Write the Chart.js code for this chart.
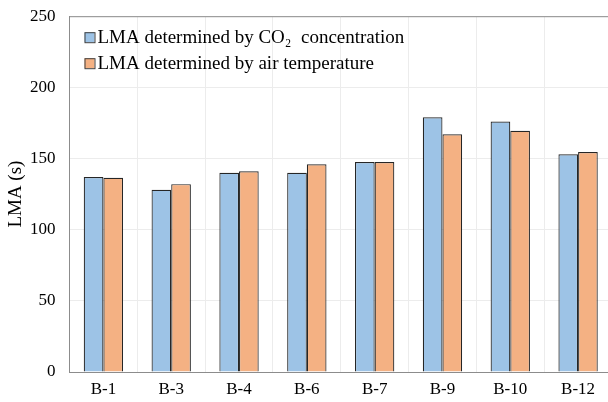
<!DOCTYPE html>
<html>
<head>
<meta charset="utf-8">
<script src="https://cdn.jsdelivr.net/npm/chart.js@4"></script>
<style>
  html, body { margin: 0; padding: 0; background: #fff; overflow: hidden; }
  #wrap { width: 608px; height: 402px; overflow: hidden; }
  #wrap div { width: 612px; height: 410px; margin-top: -8px; }
</style>
</head>
<body>
<div id="wrap"><div><canvas id="lma"></canvas></div></div>
<script>
const categories = ["B-1", "B-3", "B-4", "B-6", "B-7", "B-9", "B-10", "B-12"]
const co2Values = [137, 128, 140, 140, 147.5, 179, 176, 153]
const tempValues = [136.5, 132, 141, 146, 147.5, 167, 169.5, 154.5]
const seriesLabels = ["LMA determined by CO\u2082  concentration", "LMA determined by air temperature"]
const yTicks = [0, 50, 100, 150, 200, 250]

const serif = "'Liberation Serif', 'Times New Roman', serif"

// legend drawn inside the plot area, top left, like the original
const innerLegend = {
    id: "innerLegend",
    afterDraw(chart) {
        const ctx = chart.ctx
        const area = chart.chartArea
        ctx.save()
        ctx.font = "19px " + serif
        ctx.textBaseline = "middle"
        chart.data.datasets.forEach((ds, i) => {
            const y = area.top + 21 + i * 26
            const x = area.left + 15
            ctx.fillStyle = ds.backgroundColor
            ctx.fillRect(x, y - 5, 10, 10)
            ctx.strokeStyle = "#404040"
            ctx.lineWidth = 1
            ctx.strokeRect(x + 0.5, y - 4.5, 10, 10)
            ctx.fillStyle = "#000"
            ctx.fillText(ds.label, x + 13, y + 1)
        })
        ctx.restore()
    }
}

const topBorder = {
    id: "topBorder",
    afterDraw(chart) {
        const ctx = chart.ctx
        const area = chart.chartArea
        ctx.save()
        ctx.strokeStyle = "#8c8c8c"
        ctx.lineWidth = 1
        ctx.beginPath()
        ctx.moveTo(area.left, area.top + 0.5)
        ctx.lineTo(area.right, area.top + 0.5)
        ctx.stroke()
        ctx.restore()
    }
}

new Chart(document.getElementById("lma"), {
    type: "bar",
    data: {
        labels: categories,
        datasets: [{
            label: seriesLabels[0],
            data: co2Values,
            backgroundColor: "#9dc3e6",
            borderColor: "#262626",
            borderWidth: 1.2
        }, {
            label: seriesLabels[1],
            data: tempValues,
            backgroundColor: "#f4b183",
            borderColor: "#262626",
            borderWidth: 1.2
        }]
    },
    options: {
        responsive: true,
        maintainAspectRatio: false,
        animation: false,
        datasets: {bar: {categoryPercentage: 0.58, barPercentage: 1}},
        layout: {padding: {top: 8, left: 5, right: 0, bottom: 0}},
        scales: {
            x: {
                grid: {color: "#ececec", drawTicks: false, offset: true},
                border: {color: "#8c8c8c", width: 1},
                ticks: {color: "#000", padding: 7, font: {family: serif, size: 17}},
                afterFit(scale) { scale.height = 30 }
            },
            y: {
                min: 0, max: 250,
                afterBuildTicks(scale) { scale.ticks = yTicks.map(v => ({value: v})) },
                grid: {color: "#ececec", drawTicks: false},
                border: {color: "#8c8c8c", width: 1},
                ticks: {color: "#000", padding: 14, font: {family: serif, size: 17}},
                title: {display: true, text: "LMA (s)", color: "#000", padding: 0,
                        font: {family: serif, size: 19}},
                afterFit(scale) { scale.width = 64.5 }
            }
        },
        plugins: {
            legend: {display: false},
            tooltip: {enabled: false}
        }
    },
    plugins: [innerLegend, topBorder]
})
</script>
</body>
</html>
